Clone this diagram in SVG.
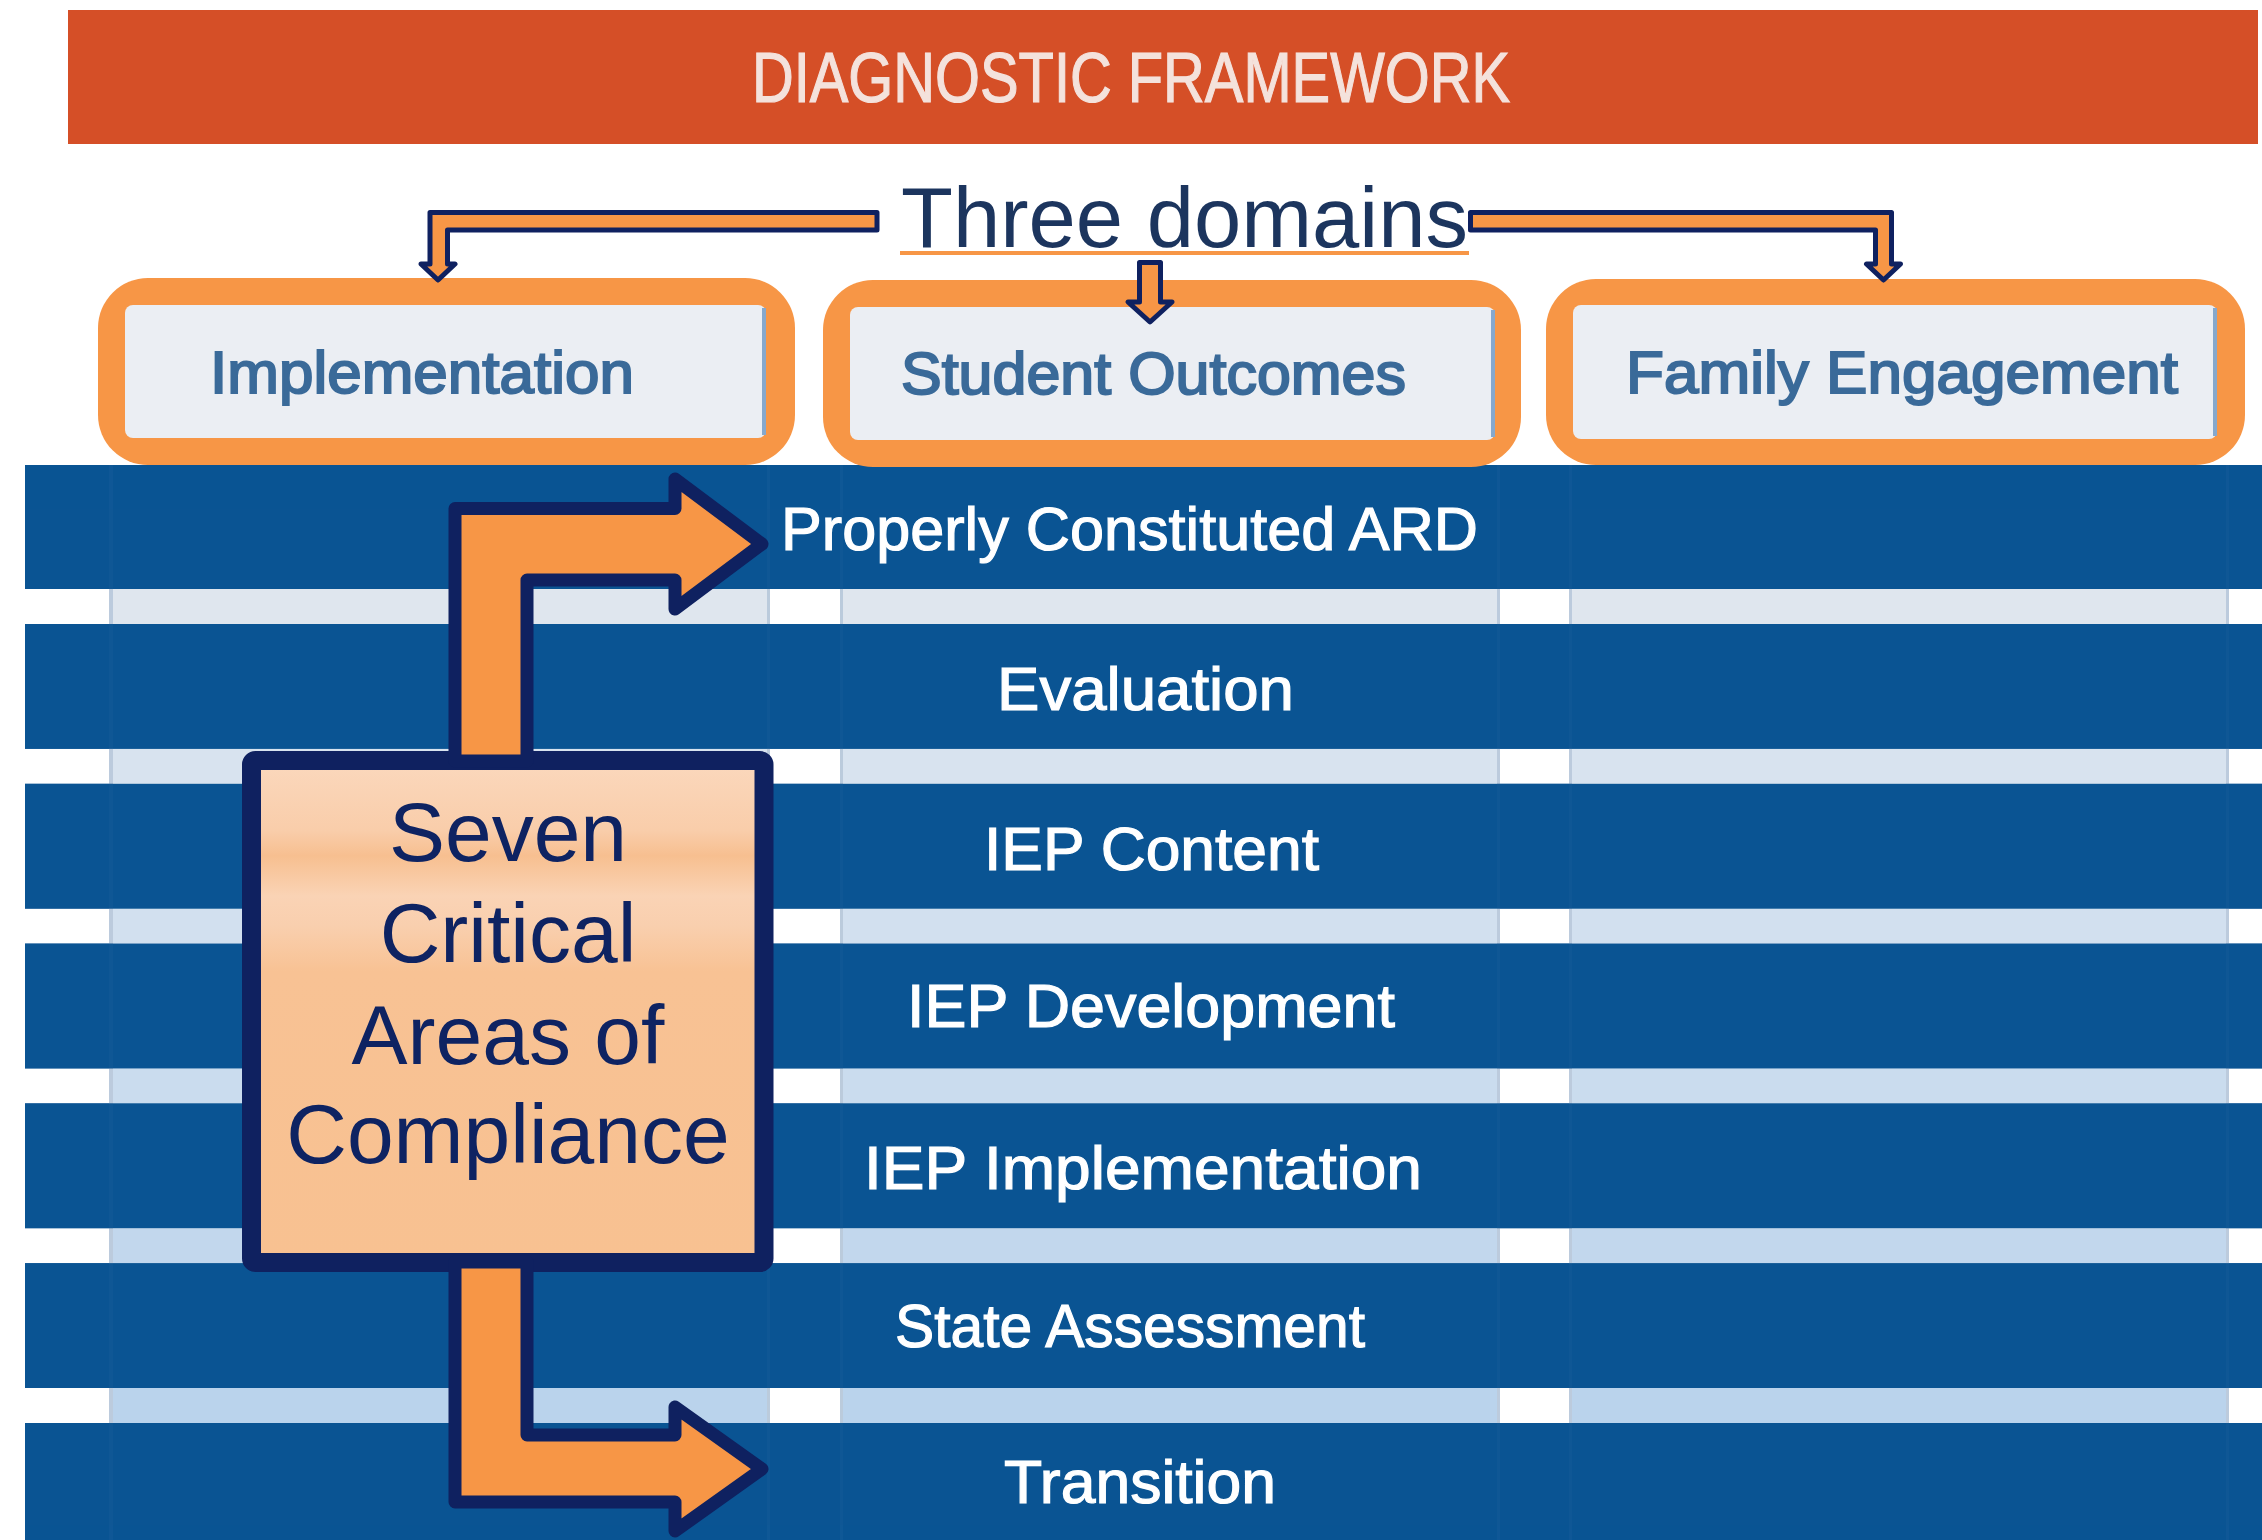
<svg xmlns="http://www.w3.org/2000/svg" width="2262" height="1540" viewBox="0 0 2262 1540">
  <defs>
    <style>
      .hdr { font-family: "Liberation Sans", Arial, sans-serif; font-size: 70px; fill: #F4E2DC; stroke: #F4E2DC; stroke-width: 1.2; }
      .title { font-family: "Liberation Sans", Arial, sans-serif; font-size: 86px; fill: #1C355E; }
      .dom-frame { fill: #F79646; }
      .dom-inner { fill: #EBEEF3; }
      .dom-edge { fill: #86A8CC; }
      .dom-text { font-family: "Liberation Sans", Arial, sans-serif; font-size: 59px; fill: #3A6A99; stroke: #3A6A99; stroke-width: 2; }
      .row { fill: #0A5493; }
      .row-text { font-family: "Liberation Sans", Arial, sans-serif; font-size: 62px; fill: #FFFFFF; stroke: #FFFFFF; stroke-width: 1.2; }
      .cell-line { fill: #8FA9C6; }
      .arrow { fill: #F79646; stroke: #0F2160; stroke-linejoin: round; }
      .thin { stroke-width: 5; }
      .thick { stroke-width: 13; }
      .areas-text { font-family: "Liberation Sans", Arial, sans-serif; font-size: 84px; fill: #0E2362; text-anchor: middle; }
    </style>
    <linearGradient id="peach" x1="0" y1="0" x2="0" y2="1">
      <stop offset="0" stop-color="#FBD8BD"/>
      <stop offset="0.14" stop-color="#F9CDAA"/>
      <stop offset="0.19" stop-color="#F7BF90"/>
      <stop offset="0.27" stop-color="#FAD3B5"/>
      <stop offset="0.33" stop-color="#F9CFAE"/>
      <stop offset="0.42" stop-color="#F8C294"/>
      <stop offset="1" stop-color="#F8C191"/>
    </linearGradient>
  </defs>

  <rect width="2262" height="1540" fill="#FFFFFF"/>

  <!-- header banner -->
  <g id="header">
    <rect x="68" y="10" width="2190" height="134" fill="#D54F27"/>
    <text class="hdr" x="752" y="102" textLength="758" lengthAdjust="spacingAndGlyphs">DIAGNOSTIC FRAMEWORK</text>
  </g>

  <!-- table of compliance areas -->
  <g id="table">
    <rect class="row" x="25" y="465" width="2237" height="1075"/>
    <!-- separators: light cells with white gaps -->
    <g id="separators">
      <g transform="translate(0,0)">
        <rect x="25" y="589" width="2237" height="35" fill="#FFFFFF"/>
        <rect x="113" y="589" width="654" height="35" fill="#DFE6EE"/>
        <rect x="843" y="589" width="654" height="35" fill="#DFE6EE"/>
        <rect x="1572" y="589" width="654" height="35" fill="#DFE6EE"/>
      </g>
      <g transform="translate(0,159.8)">
        <rect x="25" y="589" width="2237" height="35" fill="#FFFFFF"/>
        <rect x="113" y="589" width="654" height="35" fill="#D8E3EF"/>
        <rect x="843" y="589" width="654" height="35" fill="#D8E3EF"/>
        <rect x="1572" y="589" width="654" height="35" fill="#D8E3EF"/>
      </g>
      <g transform="translate(0,319.6)">
        <rect x="25" y="589" width="2237" height="35" fill="#FFFFFF"/>
        <rect x="113" y="589" width="654" height="35" fill="#D2E0EF"/>
        <rect x="843" y="589" width="654" height="35" fill="#D2E0EF"/>
        <rect x="1572" y="589" width="654" height="35" fill="#D2E0EF"/>
      </g>
      <g transform="translate(0,479.4)">
        <rect x="25" y="589" width="2237" height="35" fill="#FFFFFF"/>
        <rect x="113" y="589" width="654" height="35" fill="#CADCEE"/>
        <rect x="843" y="589" width="654" height="35" fill="#CADCEE"/>
        <rect x="1572" y="589" width="654" height="35" fill="#CADCEE"/>
      </g>
      <g transform="translate(0,639.2)">
        <rect x="25" y="589" width="2237" height="35" fill="#FFFFFF"/>
        <rect x="113" y="589" width="654" height="35" fill="#C2D7ED"/>
        <rect x="843" y="589" width="654" height="35" fill="#C2D7ED"/>
        <rect x="1572" y="589" width="654" height="35" fill="#C2D7ED"/>
      </g>
      <g transform="translate(0,799)">
        <rect x="25" y="589" width="2237" height="35" fill="#FFFFFF"/>
        <rect x="113" y="589" width="654" height="35" fill="#BAD3EC"/>
        <rect x="843" y="589" width="654" height="35" fill="#BAD3EC"/>
        <rect x="1572" y="589" width="654" height="35" fill="#BAD3EC"/>
      </g>
    </g>
    <!-- column rules at the cell edges -->
    <g opacity="0.6">
      <rect class="cell-line" x="109" y="465" width="4" height="1075"/>
      <rect class="cell-line" x="767" y="465" width="3" height="1075"/>
      <rect class="cell-line" x="840" y="465" width="3" height="1075"/>
      <rect class="cell-line" x="1497" y="465" width="3" height="1075"/>
      <rect class="cell-line" x="1569" y="465" width="3" height="1075"/>
      <rect class="cell-line" x="2226" y="465" width="3" height="1075"/>
    </g>
    <!-- blue bands drawn over the rules so they only show faintly -->
    <g opacity="0.93">
      <rect class="row" x="25" y="465" width="2237" height="124"/>
      <rect class="row" x="25" y="624" width="2237" height="124.8"/>
      <rect class="row" x="25" y="783.8" width="2237" height="124.8"/>
      <rect class="row" x="25" y="943.6" width="2237" height="124.8"/>
      <rect class="row" x="25" y="1103.4" width="2237" height="124.8"/>
      <rect class="row" x="25" y="1263.2" width="2237" height="124.8"/>
      <rect class="row" x="25" y="1423" width="2237" height="117"/>
    </g>
  </g>

  <!-- the seven areas -->
  <g id="areas">
    <g id="area-ard"><text class="row-text" x="781" y="550" textLength="697" lengthAdjust="spacingAndGlyphs">Properly Constituted ARD</text></g>
    <g id="area-evaluation"><text class="row-text" x="997" y="710" textLength="297" lengthAdjust="spacingAndGlyphs">Evaluation</text></g>
    <g id="area-iep-content"><text class="row-text" x="984" y="870" textLength="335" lengthAdjust="spacingAndGlyphs">IEP Content</text></g>
    <g id="area-iep-development"><text class="row-text" x="907" y="1027" textLength="488" lengthAdjust="spacingAndGlyphs">IEP Development</text></g>
    <g id="area-iep-implementation"><text class="row-text" x="864" y="1189" textLength="558" lengthAdjust="spacingAndGlyphs">IEP Implementation</text></g>
    <g id="area-state-assessment"><text class="row-text" x="895" y="1347" textLength="470" lengthAdjust="spacingAndGlyphs">State Assessment</text></g>
    <g id="area-transition"><text class="row-text" x="1004" y="1503" textLength="272" lengthAdjust="spacingAndGlyphs">Transition</text></g>
  </g>

  <!-- domain boxes -->
  <g id="domain-implementation">
    <rect class="dom-frame" x="98" y="278" width="697" height="187" rx="50"/>
    <rect class="dom-inner" x="125" y="305" width="641" height="133" rx="8"/>
    <rect class="dom-edge" x="762" y="308" width="4" height="127"/>
    <text class="dom-text" x="210" y="393" textLength="424" lengthAdjust="spacingAndGlyphs">Implementation</text>
  </g>
  <g id="domain-student-outcomes">
    <rect class="dom-frame" x="823" y="280" width="698" height="187" rx="50"/>
    <rect class="dom-inner" x="850" y="307" width="645" height="133" rx="8"/>
    <rect class="dom-edge" x="1491" y="310" width="4" height="127"/>
    <text class="dom-text" x="901" y="394" textLength="505" lengthAdjust="spacingAndGlyphs">Student Outcomes</text>
  </g>
  <g id="domain-family-engagement">
    <rect class="dom-frame" x="1546" y="279" width="699" height="186" rx="50"/>
    <rect class="dom-inner" x="1573" y="305" width="644" height="134" rx="8"/>
    <rect class="dom-edge" x="2213" y="308" width="4" height="128"/>
    <text class="dom-text" x="1626" y="393" textLength="552" lengthAdjust="spacingAndGlyphs">Family Engagement</text>
  </g>

  <!-- title over the domains -->
  <g id="three-domains">
    <text class="title" x="901" y="247" textLength="567" lengthAdjust="spacingAndGlyphs">Three domains</text>
    <rect x="900" y="251" width="569" height="4" fill="#F79646"/>
  </g>

  <!-- summary box -->
  <g id="seven-areas">
    <rect x="251.5" y="760.5" width="512.5" height="502" rx="4" fill="url(#peach)" stroke="#0F2160" stroke-width="19" stroke-linejoin="round"/>
    <text class="areas-text" x="508" y="861">Seven</text>
    <text class="areas-text" x="508" y="962">Critical</text>
    <text class="areas-text" x="508" y="1064">Areas of</text>
    <text class="areas-text" x="508" y="1163">Compliance</text>
  </g>

  <!-- connectors -->
  <g id="connectors">
    <path class="arrow thin" d="M877,212.5 H430 V264 H421 L438,280 L455,264 H447.5 V230 H877 Z"/>
    <path class="arrow thin" d="M1470.5,212.5 H1891.5 V264 H1900.5 L1883.5,280 L1866.5,264 H1875.5 V230 H1470.5 Z"/>
    <path class="arrow thin" d="M1139.5,262.5 H1160.5 V302 H1172 L1150,322 L1128,302 H1139.5 Z"/>
    <path class="arrow thick" d="M455,761 V508.5 H675 V479 L762,544 L675,609 V580 H527 V761 Z"/>
    <path class="arrow thick" d="M455,1262 V1502 H675 V1531 L762,1469 L675,1407 V1435 H527 V1262 Z"/>
  </g>
</svg>
